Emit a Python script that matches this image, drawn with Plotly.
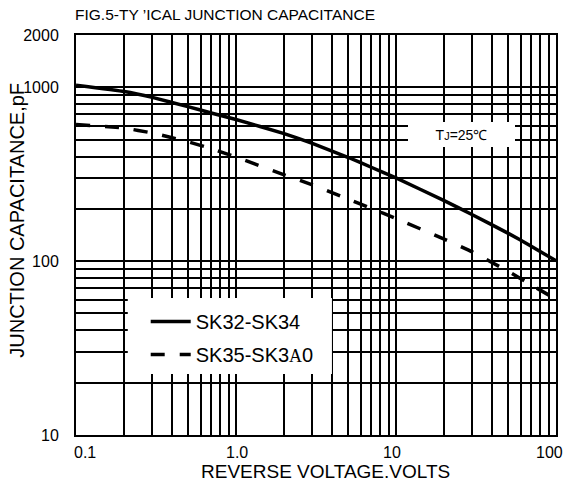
import math
import plotly.graph_objects as go

# ---- data ----
voltage = [0.1, 0.2, 0.3, 0.5, 0.7, 1.0, 2.0, 3.0, 5.0, 7.0, 10, 20, 30, 50, 70, 100]
cap_sk32_sk34 = [1027, 945, 875, 774, 712, 653, 542, 476, 396, 347, 301, 223, 185, 145, 122, 100.4]
cap_sk35_sk3a0 = [611, 583, 546, 487, 444, 397, 314, 275, 228, 201, 176, 134, 113, 87.6, 73, 60.4]

name_solid = "SK32-SK34"
name_dash = "SK35-SK3<span style='font-family:Liberation Serif;font-size:18px'>A</span>0"

x_tickvals = [0.1, 1, 10, 100]
x_ticktext = ["0.1", "1.0", "10", "100"]
x_tickshift = [9, 1, -4, -7]
y_tickvals = [10, 100, 1000, 2000]
y_ticktext = ["10", "100", "1000", "2000"]

x_minor = [m * d for d in (0.1, 1, 10) for m in range(2, 10)]
y_minor = [m * d for d in (10, 100) for m in range(2, 10)]

FONT = "Arial, Liberation Sans, sans-serif"

fig = go.Figure()
fig.add_trace(go.Scatter(
    x=voltage, y=cap_sk32_sk34, mode="lines", name=name_solid,
    line=dict(color="black", width=3.5, shape="spline", smoothing=0.3),
    legendgroup="a",
))
fig.add_trace(go.Scatter(
    x=voltage, y=cap_sk35_sk3a0, mode="lines", name=name_dash,
    line=dict(color="black", width=3.5, dash="14px,15px", shape="spline", smoothing=0.3),
    legendgroup="b",
))

axis_common = dict(
    type="log",
    showline=True, mirror=True, linecolor="black", linewidth=2,
    showgrid=True, gridcolor="black", gridwidth=2,
    ticks="", zeroline=False,
    tickfont=dict(family=FONT, size=16, color="black"),
)

fig.update_xaxes(
    **axis_common, range=[-1, 2],
    tickmode="array", tickvals=x_tickvals, ticktext=x_ticktext,
    showticklabels=False,
    minor=dict(tickmode="array", tickvals=x_minor, showgrid=True, gridcolor="black", gridwidth=2),
)
fig.update_yaxes(
    **axis_common, range=[1, math.log10(2000)],
    tickmode="array", tickvals=y_tickvals, ticktext=y_ticktext,
    minor=dict(tickmode="array", tickvals=y_minor, showgrid=True, gridcolor="black", gridwidth=2),
    ticklabelstandoff=12,
)

annotations = [
    dict(
        text="T<span style='font-size:11px'>J</span>=25\u2103",
        xref="paper", yref="paper",
        x=(463.5 - 76) / 482, y=(435 - 134.5) / 400,
        xanchor="center", yanchor="middle",
        showarrow=False, bgcolor="white",
        width=103, height=21, borderpad=2, borderwidth=0,
        font=dict(family=FONT, size=14, color="black"),
    ),
    dict(
        text="REVERSE VOLTAGE.VOLTS",
        xref="paper", yref="paper",
        x=(327 - 76) / 482, y=(435 - 471) / 400,
        xanchor="center", yanchor="middle", showarrow=False,
        font=dict(family=FONT, size=19, color="black"),
    ),
    dict(
        text="JUNCTION CAPACITANCE,pF",
        xref="paper", yref="paper",
        x=(16.5 - 76) / 482, y=(435 - 220) / 400,
        xanchor="center", yanchor="middle", showarrow=False,
        textangle=-90,
        font=dict(family=FONT, size=20, color="black"),
    ),
]
for v, t, s in zip(x_tickvals, x_ticktext, x_tickshift):
    annotations.append(dict(
        text=t, xref="x", yref="paper", x=math.log10(v), y=0,
        xanchor="center", yanchor="middle", yshift=-17, xshift=s,
        showarrow=False, font=dict(family=FONT, size=16, color="black"),
    ))

fig.update_layout(
    width=566, height=483,
    margin=dict(l=76, r=8, t=35, b=48),
    paper_bgcolor="white", plot_bgcolor="white",
    font=dict(family=FONT, color="black"),
    title=dict(
        text="FIG.5-TY \u2019ICAL JUNCTION CAPACITANCE",
        x=75 / 566, xanchor="left", xref="container",
        y=1 - 15 / 483, yanchor="middle", yref="container",
        font=dict(family=FONT, size=15.5, color="black"),
    ),
    showlegend=True,
    legend=dict(
        x=(146 - 76) / 482, xanchor="left",
        y=(435 - 302) / 400, yanchor="top",
        bgcolor="rgba(0,0,0,0)", borderwidth=0,
        font=dict(family=FONT, size=20, color="black"),
        tracegroupgap=4, itemwidth=40,
    ),
    shapes=[dict(
        type="rect", xref="paper", yref="paper", layer="above",
        x0=(128 - 76) / 482, x1=(333 - 76) / 482,
        y0=(435 - 374) / 400, y1=(435 - 298) / 400,
        fillcolor="white", line=dict(width=0),
    )],
    annotations=annotations,
)

fig.write_html(
    "out.html",
    config={"displayModeBar": False},
    post_script="document.body.style.margin='0';document.body.style.overflow='hidden';",
)
